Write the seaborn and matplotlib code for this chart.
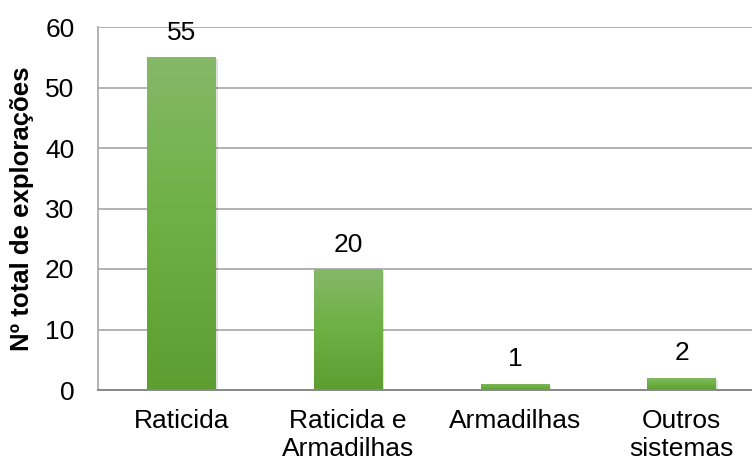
import numpy as np
import pandas as pd
import matplotlib
matplotlib.use("Agg")
import matplotlib.pyplot as plt
import matplotlib.patheffects as pe
from matplotlib.colors import LinearSegmentedColormap
import seaborn as sns

categories = ["Raticida", "Raticida e\nArmadilhas", "Armadilhas", "Outros\nsistemas"]
values = [55, 20, 1, 2]
y_ticks = [0, 10, 20, 30, 40, 50, 60]
y_label = "Nº total de explorações"

sns.set_theme(style="white")
plt.rcParams["font.family"] = ["Liberation Sans", "DejaVu Sans"]
plt.rcParams["text.color"] = "black"
plt.rcParams["axes.labelcolor"] = "black"

df = pd.DataFrame({"categoria": categories, "total": values})

fig = plt.figure(figsize=(7.52, 4.62), dpi=100)
ax = fig.add_axes([98 / 752, 72 / 462, 667 / 752, 363 / 462])

sns.barplot(data=df, x="categoria", y="total", ax=ax, color="#6aab3e",
            width=0.41, saturation=1, edgecolor="none", zorder=3)

ax.set_ylim(0, 60)
ax.set_yticks(y_ticks)
ax.yaxis.grid(True, color="#a6a6a6", linewidth=1.2, zorder=0)
ax.set_axisbelow(True)

for side in ("top", "right"):
    ax.spines[side].set_visible(False)
ax.spines["left"].set_color("#a6a6a6")
ax.spines["left"].set_linewidth(1.2)
ax.spines["bottom"].set_color("#888888")
ax.spines["bottom"].set_linewidth(1.4)
ax.spines["bottom"].set_zorder(5)

ax.tick_params(axis="both", length=0, labelsize=19, colors="black")
ax.tick_params(axis="y", pad=17)
ax.tick_params(axis="x", pad=14)
for lbl in ax.get_xticklabels():
    lbl.set_linespacing(1.2)

ax.set_xlabel("")
ax.set_ylabel(y_label, fontsize=18.5, fontweight="bold", color="black")
ax.yaxis.set_label_coords(-64 / 667, 0.5)

# vertical green gradient inside each bar, with a soft drop shadow
cmap = LinearSegmentedColormap.from_list("verde", ["#5d9d32", "#6db043", "#85b868"])
grad = np.linspace(0, 1, 256).reshape(-1, 1)
for bar in ax.patches:
    bar.set_path_effects([pe.SimplePatchShadow(offset=(1.5, -1.5), shadow_rgbFace="#000000", alpha=0.12),
                          pe.Normal()])
    x0, y0 = bar.get_x(), bar.get_y()
    w, h = bar.get_width(), bar.get_height()
    im = ax.imshow(grad, cmap=cmap, origin="lower", aspect="auto",
                   extent=(x0, x0 + w, y0, y0 + h), zorder=4)
    im.set_clip_path(bar)
    ax.annotate(f"{h:.0f}", (x0 + w / 2, h), xytext=(0, 9), textcoords="offset points",
                ha="center", va="bottom", fontsize=19, color="black", zorder=6)

ax.set_xlim(-0.5, 3.5)
ax.set_ylim(0, 60)

fig.savefig("out.png", dpi=100)
